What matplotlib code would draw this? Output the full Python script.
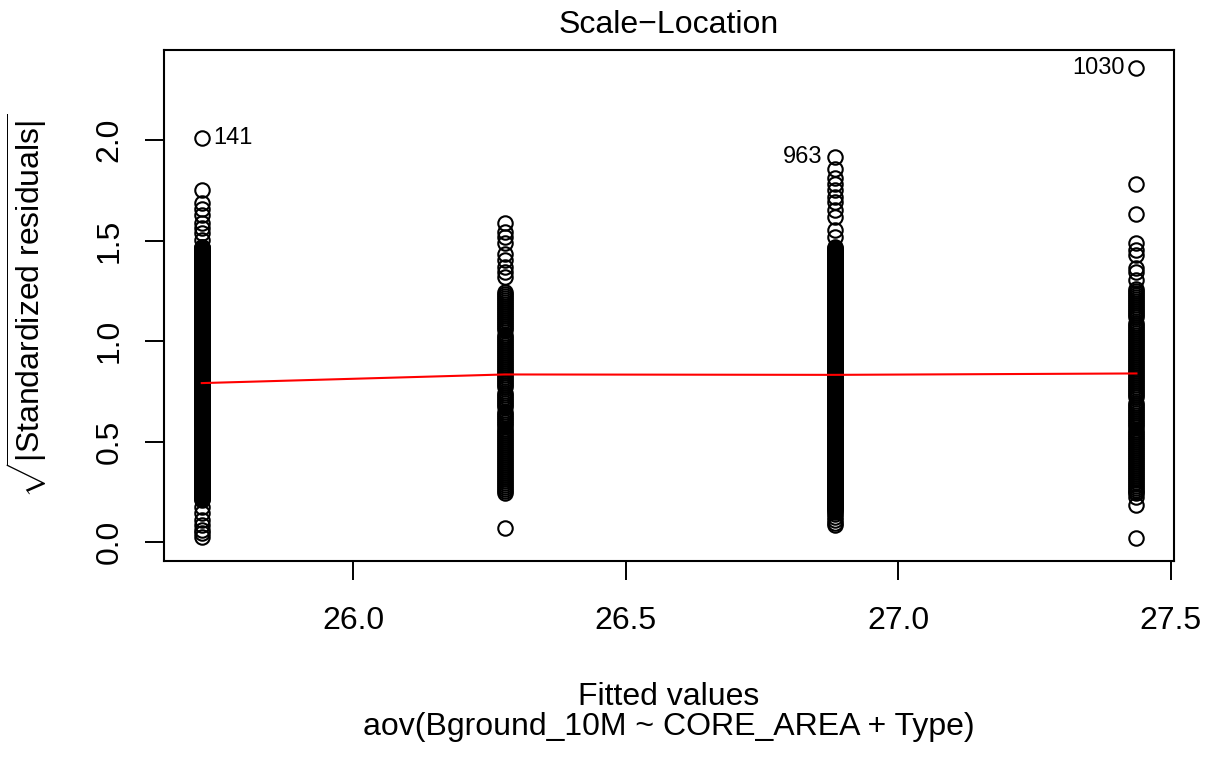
import matplotlib
matplotlib.use("Agg")
import matplotlib.pyplot as plt

plt.rcParams['font.family'] = ['Liberation Sans', 'DejaVu Sans']
plt.rcParams['mathtext.fontset'] = 'custom'
plt.rcParams['mathtext.rm'] = 'Liberation Sans'
plt.rcParams['mathtext.it'] = 'Liberation Sans:italic'

# fitted values of the four groups
fitted = [25.722, 26.278, 26.883, 27.437]

# the packed (solid black) part of groups 1 and 3
packed = [1.47, 1.465, 1.46, 1.455, 1.45, 1.445, 1.44, 1.435, 1.43, 1.425,
          1.42, 1.415, 1.41, 1.405, 1.40, 1.395, 1.39, 1.385, 1.38, 1.375,
          1.37, 1.365, 1.36, 1.355, 1.35, 1.345, 1.34, 1.335, 1.33, 1.325,
          1.32, 1.315, 1.31, 1.305, 1.30, 1.295, 1.29, 1.285, 1.28, 1.275,
          1.27, 1.265, 1.26, 1.255, 1.25, 1.245, 1.24, 1.235, 1.23, 1.225,
          1.22, 1.215, 1.21, 1.205, 1.20, 1.195, 1.19, 1.185, 1.18, 1.175,
          1.17, 1.165, 1.16, 1.155, 1.15, 1.145, 1.14, 1.135, 1.13, 1.125,
          1.12, 1.115, 1.11, 1.105, 1.10, 1.095, 1.09, 1.085, 1.08, 1.075,
          1.07, 1.065, 1.06, 1.055, 1.05, 1.045, 1.04, 1.035, 1.03, 1.025,
          1.02, 1.015, 1.01, 1.005, 1.00, 0.995, 0.99, 0.985, 0.98, 0.975,
          0.97, 0.965, 0.96, 0.955, 0.95, 0.945, 0.94, 0.935, 0.93, 0.925,
          0.92, 0.915, 0.91, 0.905, 0.90, 0.895, 0.89, 0.885, 0.88, 0.875,
          0.87, 0.865, 0.86, 0.855, 0.85, 0.845, 0.84, 0.835, 0.83, 0.825,
          0.82, 0.815, 0.81, 0.805, 0.80, 0.795, 0.79, 0.785, 0.78, 0.775,
          0.77, 0.765, 0.76, 0.755, 0.75, 0.745, 0.74, 0.735, 0.73, 0.725,
          0.72, 0.715, 0.71, 0.705, 0.70, 0.695, 0.69, 0.685, 0.68, 0.675,
          0.67, 0.665, 0.66, 0.655, 0.65, 0.645, 0.64, 0.635, 0.63, 0.625,
          0.62, 0.615, 0.61, 0.605, 0.60, 0.595, 0.59, 0.585, 0.58, 0.575,
          0.57, 0.565, 0.56, 0.555, 0.55, 0.545, 0.54, 0.535, 0.53, 0.525,
          0.52, 0.515, 0.51, 0.505, 0.50, 0.495, 0.49, 0.485, 0.48, 0.475,
          0.47, 0.465, 0.46, 0.455, 0.45, 0.445, 0.44, 0.435, 0.43, 0.425,
          0.42, 0.415, 0.41, 0.405, 0.40, 0.395, 0.39, 0.385, 0.38, 0.375,
          0.37, 0.365, 0.36, 0.355, 0.35, 0.345, 0.34, 0.335, 0.33, 0.325,
          0.32, 0.315, 0.31, 0.305, 0.30, 0.295, 0.29, 0.285, 0.28, 0.275,
          0.27, 0.265, 0.26, 0.255, 0.25, 0.245, 0.24, 0.235, 0.23, 0.225,
          0.22, 0.215, 0.21, 0.205, 0.20, 0.195, 0.19, 0.185, 0.18, 0.175,
          0.17, 0.165, 0.16]

# sqrt(|standardized residuals|) per group
g1_top = [2.01, 1.75, 1.685, 1.66, 1.627, 1.586, 1.561, 1.536, 1.502, 1.469]
g1_bottom = [0.176, 0.143, 0.109, 0.085, 0.06, 0.043, 0.026]
res_g1 = g1_top + [v for v in packed if v >= 0.21] + g1_bottom

res_g2 = [1.586, 1.544, 1.519, 1.486, 1.436, 1.403, 1.37, 1.345, 1.32,
          1.245, 1.235, 1.225, 1.215, 1.205, 1.195, 1.185, 1.175, 1.165, 1.155,
          1.145, 1.135, 1.125, 1.115, 1.105, 1.095, 1.085, 1.075, 1.065, 1.055,
          1.03, 1.02, 1.01, 1.00, 0.99, 0.98, 0.97, 0.96, 0.95, 0.94, 0.93,
          0.92, 0.91, 0.90, 0.89, 0.88, 0.87, 0.86, 0.85, 0.84, 0.83, 0.82,
          0.81, 0.80, 0.79, 0.78, 0.77, 0.74, 0.73, 0.72, 0.71, 0.70, 0.69,
          0.68, 0.67, 0.645, 0.635, 0.625, 0.615, 0.605, 0.595, 0.585, 0.575,
          0.565, 0.555, 0.545, 0.535, 0.525, 0.515, 0.505, 0.495, 0.485, 0.475,
          0.465, 0.455, 0.445, 0.435, 0.425, 0.415, 0.405, 0.395, 0.385, 0.375,
          0.365, 0.355, 0.345, 0.335, 0.325, 0.315, 0.305, 0.295, 0.285, 0.275,
          0.265, 0.255, 0.245, 0.068]

g3_top = [1.915, 1.859, 1.81, 1.784, 1.751, 1.718, 1.693, 1.652, 1.618, 1.552, 1.519]
g3_bottom = [0.15, 0.14, 0.125, 0.11, 0.095, 0.085]
res_g3 = g3_top + packed + g3_bottom

res_g4 = [2.357, 1.781, 1.635, 1.486, 1.453, 1.428, 1.362, 1.345, 1.303,
          1.26, 1.25, 1.24, 1.23, 1.22, 1.21, 1.20, 1.19, 1.18, 1.17, 1.16,
          1.15, 1.14, 1.13, 1.12, 1.09, 1.08, 1.07, 1.06, 1.05, 1.04, 1.03,
          1.02, 1.01, 1.00, 0.99, 0.98, 0.97, 0.96, 0.95, 0.94, 0.93, 0.92,
          0.91, 0.90, 0.89, 0.88, 0.87, 0.86, 0.85, 0.84, 0.83, 0.82, 0.81,
          0.80, 0.79, 0.78, 0.77, 0.76, 0.75, 0.74, 0.73, 0.72, 0.69, 0.68,
          0.67, 0.66, 0.65, 0.64, 0.63, 0.62, 0.61, 0.60, 0.59, 0.58, 0.57,
          0.56, 0.55, 0.54, 0.53, 0.52, 0.51, 0.50, 0.49, 0.48, 0.47, 0.46,
          0.45, 0.44, 0.43, 0.42, 0.41, 0.40, 0.39, 0.38, 0.37, 0.36, 0.35,
          0.34, 0.33, 0.32, 0.31, 0.30, 0.29, 0.28, 0.27, 0.26, 0.25,
          0.242, 0.225, 0.184, 0.018]

# smoother (red line) value at each group
smooth_y = [0.791, 0.834, 0.832, 0.839]

# labelled observations: id, group index, side of the point
id_labels = ["141", "963", "1030"]
id_groups = [0, 2, 3]
id_side = ["right", "left", "left"]

groups = [res_g1, res_g2, res_g3, res_g4]

fig = plt.figure(figsize=(12.1, 7.57), dpi=100)
ax = fig.add_axes([164 / 1210, 1 - 561 / 757, 1010 / 1210, 511 / 757])

for xv, vals in zip(fitted, groups):
    ax.plot([xv] * len(vals), vals, 'o', mfc='none', mec='black', ms=10.4, mew=1.5,
            linestyle='none')

ax.plot(fitted, smooth_y, color='red', lw=1.5)

for lab, gi, side in zip(id_labels, id_groups, id_side):
    xv = fitted[gi]
    yv = groups[gi][0]
    if side == "right":
        ax.annotate(lab, (xv, yv), xytext=(8, 0), textcoords='offset points',
                    ha='left', va='center', fontsize=17)
    else:
        ax.annotate(lab, (xv, yv), xytext=(-8.5, 0), textcoords='offset points',
                    ha='right', va='center', fontsize=17)

ax.set_xlim(25.6527, 27.5059)
ax.set_ylim(-0.0945, 2.449)
ax.set_xticks([26.0, 26.5, 27.0, 27.5])
ax.set_xticklabels(["26.0", "26.5", "27.0", "27.5"])
ax.set_yticks([0.0, 0.5, 1.0, 1.5, 2.0])
ax.set_yticklabels(["0.0", "0.5", "1.0", "1.5", "2.0"])
ax.tick_params(axis='x', direction='out', length=13.7, width=1.4, labelsize=23, pad=19)
ax.tick_params(axis='y', direction='out', length=13.7, width=1.4, labelsize=23, pad=14.5)
plt.setp(ax.get_yticklabels(), rotation=90, va='center')
for s in ax.spines.values():
    s.set_linewidth(1.5)

cx = (164 + 1174) / 2 / 1210
fig.text(cx, 1 - 33 / 757, "Scale\u2212Location", ha='center', va='baseline', fontsize=23)
fig.text(cx, 1 - 705 / 757, "Fitted values", ha='center', va='baseline', fontsize=23)
fig.text(cx, 1 - 735 / 757, "aov(Bground_10M ~ CORE_AREA + Type)", ha='center',
         va='baseline', fontsize=23)
fig.text(27.5 / 1210, 1 - 305.5 / 757, r"$\sqrt{|\mathrm{Standardized\ residuals}|}$",
         rotation=90, ha='center', va='center', fontsize=23)

fig.savefig("out.png", dpi=100)
